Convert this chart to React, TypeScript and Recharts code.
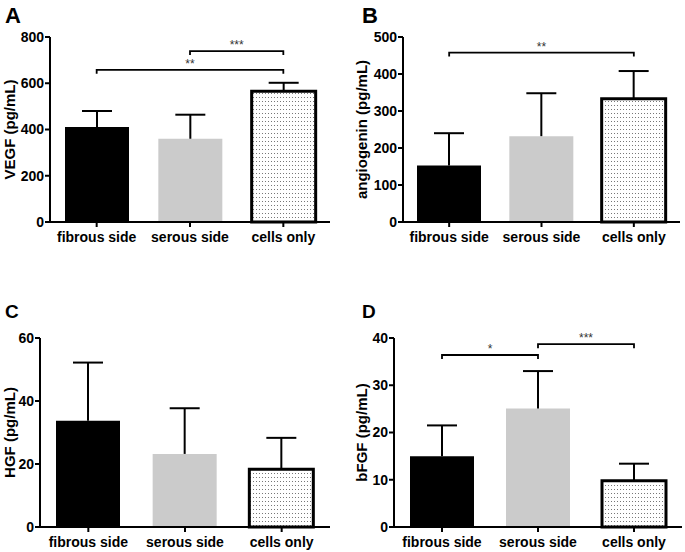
import React from 'react'
import { BarChart, Bar, XAxis, YAxis, ErrorBar, Cell, ReferenceLine } from 'recharts'

const categories = ['fibrous side', 'serous side', 'cells only']

// means and upper SD
const vegfMean = [411, 360, 565]
const vegfErr = [69, 104, 37]
const angiogeninMean = [153, 232, 333]
const angiogeninErr = [87, 116, 75]
const hgfMean = [33.7, 23.2, 18.3]
const hgfErr = [18.5, 14.5, 10]
const bfgfMean = [15, 25.1, 9.8]
const bfgfErr = [6.5, 7.9, 3.6]

const vegfTicks = [0, 200, 400, 600, 800]
const angiogeninTicks = [0, 100, 200, 300, 400, 500]
const hgfTicks = [0, 20, 40, 60]
const bfgfTicks = [0, 10, 20, 30, 40]

const vegfSig = [
  { from: 'fibrous side', to: 'cells only', y: 658, text: '**' },
  { from: 'serous side', to: 'cells only', y: 739, text: '***' },
]
const angiogeninSig = [{ from: 'fibrous side', to: 'cells only', y: 458, text: '**' }]
const hgfSig: { from: string; to: string; y: number; text: string }[] = []
const bfgfSig = [
  { from: 'fibrous side', to: 'serous side', y: 36.4, text: '*' },
  { from: 'serous side', to: 'cells only', y: 38.7, text: '***' },
]

const FONT = '"Liberation Sans", Arial, sans-serif'
const fills = ['#000000', '#cbcbcb', 'url(#dots)']
const strokes = ['none', 'none', '#000000']

const toRows = (mean: number[], err: number[]) =>
  categories.map((c, i) => ({ name: c, value: mean[i], err: [0, err[i]] }))

const bracket = (p: any) => (
  <path
    d={`M${p.x1},${p.y1 + 4}V${p.y1}H${p.x2}V${p.y2 + 4}`}
    fill="none"
    stroke="#000"
    strokeWidth={1.8}
  />
)

interface PanelProps {
  letter: string
  letterX: number
  letterY: number
  letterSize: number
  left: number
  top: number
  width: number
  yWidth: number
  marginTop: number
  marginRight: number
  xHeight: number
  labelOffset: number
  yLabel: string
  ticks: number[]
  mean: number[]
  err: number[]
  sig: { from: string; to: string; y: number; text: string }[]
}

function Panel(p: PanelProps) {
  const data = toRows(p.mean, p.err)
  const max = p.ticks[p.ticks.length - 1]
  return (
    <div style={{ position: 'absolute', left: p.left, top: p.top, width: p.width, height: 276 }}>
      <BarChart
        width={p.width}
        height={276}
        data={data}
        margin={{ top: p.marginTop, right: p.marginRight, left: 0, bottom: 0 }}
        barSize={64}
      >
        <XAxis
          dataKey="name"
          height={p.xHeight}
          axisLine={{ stroke: '#000', strokeWidth: 2 }}
          tickLine={{ stroke: '#000', strokeWidth: 2 }}
          tickSize={5}
          tickMargin={5}
          tick={{ fill: '#000', fontSize: 14, fontWeight: 'bold', fontFamily: FONT }}
          interval={0}
        />
        <YAxis
          width={p.yWidth}
          domain={[0, max]}
          ticks={p.ticks}
          axisLine={{ stroke: '#000', strokeWidth: 2 }}
          tickLine={{ stroke: '#000', strokeWidth: 2 }}
          tickSize={5}
          tickMargin={1}
          tick={{ fill: '#000', fontSize: 14, fontWeight: 'bold', fontFamily: FONT }}
          label={{
            value: p.yLabel,
            angle: -90,
            position: 'insideLeft',
            offset: p.labelOffset,
            style: { textAnchor: 'middle', fontSize: 15, fontWeight: 'bold', fill: '#000', fontFamily: FONT },
          }}
        />
        {p.sig.map((s, i) => (
          <ReferenceLine
            key={i}
            segment={[
              { x: s.from, y: s.y },
              { x: s.to, y: s.y },
            ]}
            stroke="#000"
            shape={bracket}
            label={{ value: s.text, position: 'top', offset: 2, fill: '#333', fontSize: 12, fontFamily: FONT }}
          />
        ))}
        <Bar dataKey="value" isAnimationActive={false}>
          {data.map((d, i) => (
            <Cell key={d.name} fill={fills[i]} stroke={strokes[i]} strokeWidth={i === 2 ? 3 : 0} />
          ))}
          <ErrorBar dataKey="err" width={15} stroke="#000" strokeWidth={2} direction="y" isAnimationActive={false} />
        </Bar>
      </BarChart>
      <div
        style={{
          position: 'absolute',
          left: p.letterX,
          top: p.letterY,
          fontFamily: FONT,
          fontWeight: 'bold',
          fontSize: p.letterSize,
          lineHeight: 1,
          color: '#000',
        }}
      >
        {p.letter}
      </div>
    </div>
  )
}

export default function App() {
  return (
    <div style={{ position: 'absolute', left: 0, top: 0, width: 685, height: 552, background: '#fff' }}>
      <style>{'.recharts-errorBar line:nth-of-type(3){display:none}'}</style>
      <svg width={0} height={0} style={{ position: 'absolute' }}>
        <defs>
          <pattern id="dots" width={3} height={4} patternUnits="userSpaceOnUse">
            <rect width={3} height={4} fill="#fff" />
            <rect x={1} y={1} width={1} height={1} fill="#777" />
          </pattern>
        </defs>
      </svg>
      <Panel letter="A" letterX={5} letterY={5} letterSize={22} left={0} top={0} width={340} yWidth={50} marginTop={37}
        marginRight={10} xHeight={54} labelOffset={10} yLabel="VEGF (pg/mL)" ticks={vegfTicks} mean={vegfMean}
        err={vegfErr} sig={vegfSig} />
      <Panel letter="B" letterX={22} letterY={5} letterSize={22} left={340} top={0} width={345} yWidth={63} marginTop={37}
        marginRight={5} xHeight={54} labelOffset={22} yLabel="angiogenin (pg/mL)" ticks={angiogeninTicks}
        mean={angiogeninMean} err={angiogeninErr} sig={angiogeninSig} />
      <Panel letter="C" letterX={5} letterY={26} letterSize={19} left={0} top={276} width={340} yWidth={40} marginTop={62}
        marginRight={10} xHeight={25} labelOffset={10} yLabel="HGF (pg/mL)" ticks={hgfTicks} mean={hgfMean}
        err={hgfErr} sig={hgfSig} />
      <Panel letter="D" letterX={22} letterY={26} letterSize={19} left={340} top={276} width={345} yWidth={54} marginTop={62}
        marginRight={3} xHeight={25} labelOffset={22} yLabel="bFGF (pg/mL)" ticks={bfgfTicks} mean={bfgfMean}
        err={bfgfErr} sig={bfgfSig} />
    </div>
  )
}
